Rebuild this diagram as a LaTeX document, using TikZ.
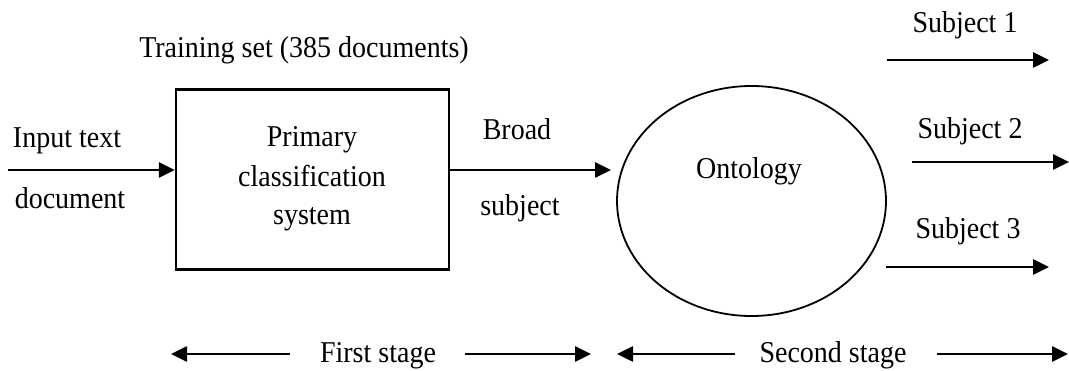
\documentclass[tikz,border=0pt]{standalone}
\usepackage{fontspec}
\setmainfont{Liberation Serif}
\usetikzlibrary{arrows.meta,shapes.geometric}
\newcommand{\tall}[1]{\scalebox{1}[1.08]{#1}}
\begin{document}
\begin{tikzpicture}[x=1pt,y=-1pt,
  lbl/.style={font=\fontsize{28}{30}\selectfont, inner sep=0pt, anchor=base},
  arr/.style={line width=2.6pt,-{Triangle[length=16pt,width=15pt]}},
  boxst/.style={draw,line width=2.4pt,minimum width=273pt,minimum height=180pt,inner sep=0pt},
  ontost/.style={draw,ellipse,line width=1.8pt,minimum width=269pt,minimum height=230pt,inner sep=0pt}]
\useasboundingbox (0,0) rectangle (1069,371);
% box
\node[boxst] (box) at (312.5,179.5) {};
\node[lbl] (p1) at (312,147) {\tall{Primary}};
\node[lbl] (p2) at (312,187) {\tall{classification}};
\node[lbl] (p3) at (312,225) {\tall{system}};
\node[lbl] (train) at (304,58) {\tall{Training set (385 documents)}};
% input
\node[lbl] (in1) at (67,148) {\tall{Input text}};
\node[lbl] (in2) at (70,209) {\tall{document}};
\coordinate (ins) at (8,170);
\draw[arr] (ins) -- (ins -| box.west);
% ontology
\node[ontost] (onto) at (751.5,201) {};
\node[lbl] (ont) at (749,179) {\tall{Ontology}};
\node[lbl] (br) at (517,140) {\tall{Broad}};
\node[lbl] (sb) at (520,216) {\tall{subject}};
\coordinate (oe) at (611,170);
\draw[arr] (box.east |- oe) -- (oe);
% subjects
\node[lbl] (s1) at (965,33) {\tall{Subject 1}};
\node[lbl] (s2) at (970,139) {\tall{Subject 2}};
\node[lbl] (s3) at (968,239) {\tall{Subject 3}};
\coordinate (a1s) at (887,60); \coordinate (a1e) at (1049,60);
\coordinate (a2s) at (912,162); \coordinate (a2e) at (1069,162);
\coordinate (a3s) at (886,267); \coordinate (a3e) at (1049,267);
\draw[arr] (a1s) -- (a1e);
\draw[arr] (a2s) -- (a2e);
\draw[arr] (a3s) -- (a3e);
% stages
\node[lbl] (fs) at (378,363) {\tall{First stage}};
\node[lbl] (ss) at (833,363) {\tall{Second stage}};
\coordinate (f1) at (171,354); \coordinate (f1s) at (290,354);
\coordinate (f2s) at (465,354); \coordinate (f2) at (591,354);
\coordinate (s1c) at (617,354); \coordinate (s1s) at (735,354);
\coordinate (s2s) at (937,354); \coordinate (s2c) at (1068,354);
\draw[arr] (f1s) -- (f1);
\draw[arr] (f2s) -- (f2);
\draw[arr] (s1s) -- (s1c);
\draw[arr] (s2s) -- (s2c);
\end{tikzpicture}
\end{document}
